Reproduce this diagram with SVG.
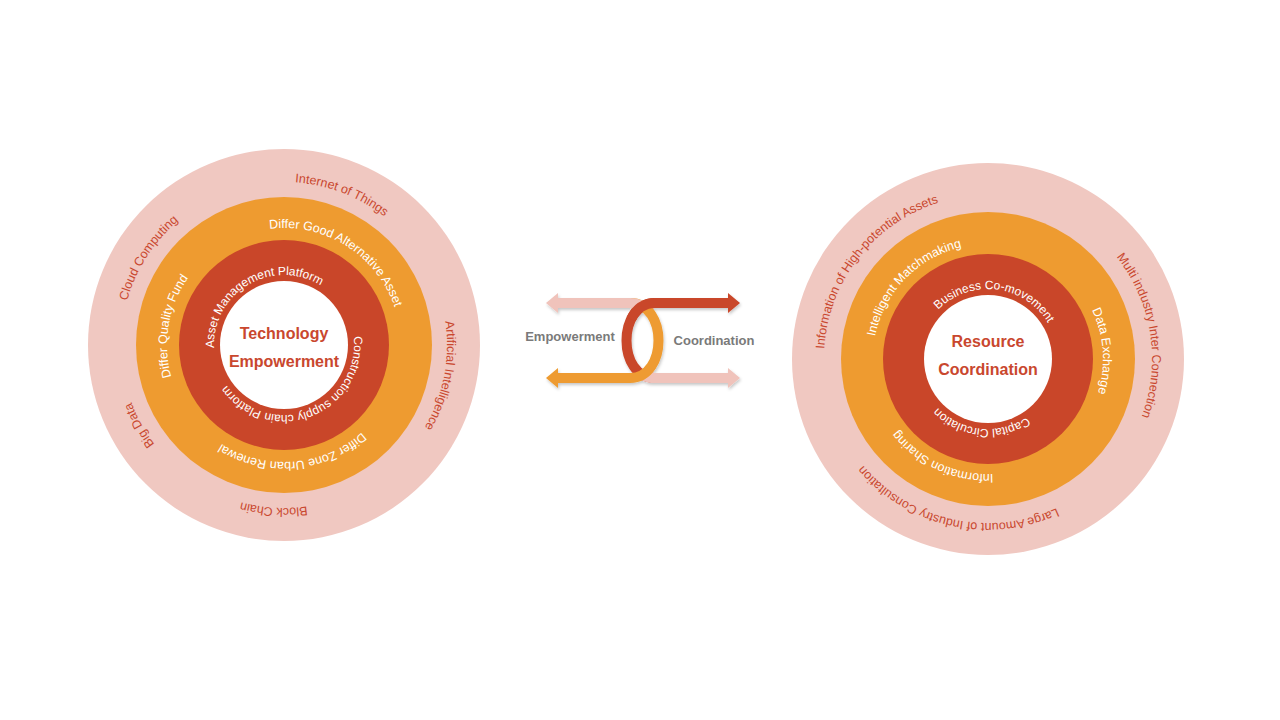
<svg xmlns="http://www.w3.org/2000/svg" width="1280" height="720" viewBox="0 0 1280 720">
<defs>
<style>
.bg{fill:#ffffff}
.pink{fill:#f0c8c1}
.orange{fill:#ee9b30}
.red{fill:#c94629}
.core{fill:#ffffff}
.t-outer{font-family:"Liberation Sans",Arial,sans-serif;font-size:12.5px;fill:#c9472e}
.t-mid{font-family:"Liberation Sans",Arial,sans-serif;font-size:12.5px;fill:#ffffff}
.t-in{font-family:"Liberation Sans",Arial,sans-serif;font-size:12px;fill:#ffffff}
.title{font-family:"Liberation Sans",Arial,sans-serif;font-size:16px;font-weight:bold;fill:#c9472e;text-anchor:middle}
.lbl{font-family:"Liberation Sans",Arial,sans-serif;font-size:13px;font-weight:bold;fill:#7a7a7a;text-anchor:middle}
.band{fill:none;stroke-width:10;stroke-linecap:butt}
.s-red{stroke:#c94629}
.s-pink{stroke:#f0c3bb}
.s-orange{stroke:#ee9b30}
</style>
<filter id="sh" x="-10%" y="-20%" width="120%" height="140%">
<feDropShadow dx="1" dy="2" stdDeviation="1.5" flood-color="#000000" flood-opacity="0.22"/>
</filter>
<marker id="ah-red" viewBox="0 0 12 20" refX="0" refY="10" markerWidth="12" markerHeight="20" markerUnits="userSpaceOnUse" orient="auto"><path d="M0,0 L12,10 L0,20 Z" fill="#c94629"/></marker>
<marker id="ah-pink" viewBox="0 0 12 20" refX="0" refY="10" markerWidth="12" markerHeight="20" markerUnits="userSpaceOnUse" orient="auto"><path d="M0,0 L12,10 L0,20 Z" fill="#f0c3bb"/></marker>
<marker id="ah-orange" viewBox="0 0 12 20" refX="0" refY="10" markerWidth="12" markerHeight="20" markerUnits="userSpaceOnUse" orient="auto"><path d="M0,0 L12,10 L0,20 Z" fill="#ee9b30"/></marker>
<!-- left circle text paths, center (284,345) -->
<path id="LoA" d="M284,508 A163,163 0 1 1 284,182 A163,163 0 1 1 284,508"/>
<path id="LoB" d="M284,182 A163,163 0 1 1 284,508 A163,163 0 1 1 284,182"/>
<path id="LmA" d="M284,462 A117,117 0 1 1 284,228 A117,117 0 1 1 284,462"/>
<path id="LmB" d="M284,228 A117,117 0 1 1 284,462 A117,117 0 1 1 284,228"/>
<path id="LiA" d="M284,415 A70,70 0 1 1 284,275 A70,70 0 1 1 284,415"/>
<path id="LiB" d="M284,275 A70,70 0 1 1 284,415 A70,70 0 1 1 284,275"/>
<!-- right circle text paths, center (988,359) -->
<path id="RoA" d="M988,523 A164,164 0 1 1 988,195 A164,164 0 1 1 988,523"/>
<path id="RoB" d="M988,195 A164,164 0 1 1 988,523 A164,164 0 1 1 988,195"/>
<path id="RmA" d="M988,474 A115,115 0 1 1 988,244 A115,115 0 1 1 988,474"/>
<path id="RmB" d="M988,244 A115,115 0 1 1 988,474 A115,115 0 1 1 988,244"/>
<path id="RiA" d="M988,429 A70,70 0 1 1 988,289 A70,70 0 1 1 988,429"/>
<path id="RiB" d="M988,289 A70,70 0 1 1 988,429 A70,70 0 1 1 988,289"/>
</defs>

<rect class="bg" x="0" y="0" width="1280" height="720"/>

<!-- LEFT: Technology Empowerment -->
<g id="tech-outer">
<circle class="pink" cx="284" cy="345" r="196"/>
<text class="t-outer" text-anchor="middle"><textPath href="#LoA" startOffset="55.83%">Internet of Things</textPath></text>
<text class="t-outer" text-anchor="middle"><textPath href="#LoB" startOffset="28.06%">Artificial Intelligence</textPath></text>
<text class="t-outer" text-anchor="middle"><textPath href="#LoB" startOffset="51%">Block Chain</textPath></text>
<text class="t-outer" text-anchor="middle"><textPath href="#LoB" startOffset="66.94%">Big Data</textPath></text>
<text class="t-outer" text-anchor="middle"><textPath href="#LoA" startOffset="34.08%">Cloud Computing</textPath></text>
</g>
<g id="tech-middle">
<circle class="orange" cx="284" cy="345" r="148"/>
<text class="t-mid" text-anchor="middle"><textPath href="#LmA" startOffset="58.89%">Differ Good Alternative Asset</textPath></text>
<text class="t-mid" text-anchor="middle"><textPath href="#LmA" startOffset="27.67%">Differ Quality Fund</textPath></text>
<text class="t-mid" text-anchor="middle"><textPath href="#LmB" startOffset="48.69%">Differ Zone Urban Renewal</textPath></text>
</g>
<g id="tech-inner">
<circle class="red" cx="284" cy="345" r="105"/>
<text class="t-in" text-anchor="middle"><textPath href="#LiA" startOffset="41.56%">Asset Management Platform</textPath></text>
<text class="t-in" text-anchor="middle"><textPath href="#LiB" startOffset="44.17%">Construction supply chain Platform</textPath></text>
</g>
<g id="tech-core">
<circle class="core" cx="284" cy="345" r="64"/>
<text class="title" x="284" y="339">Technology</text>
<text class="title" x="284" y="367">Empowerment</text>
</g>

<!-- RIGHT: Resource Coordination -->
<g id="res-outer">
<circle class="pink" cx="988" cy="359" r="196"/>
<text class="t-outer" text-anchor="middle"><textPath href="#RoA" startOffset="35.56%">Information of High-potential Assets</textPath></text>
<text class="t-outer" text-anchor="middle"><textPath href="#RoB" startOffset="22.5%">Multi industry Inter Connection</textPath></text>
<text class="t-outer" text-anchor="middle"><textPath href="#RoB" startOffset="53.44%">Large Amount of Industry Consultation</textPath></text>
</g>
<g id="res-middle">
<circle class="orange" cx="988" cy="359" r="147"/>
<text class="t-mid" text-anchor="middle"><textPath href="#RmA" startOffset="37.22%">Intelligent Matchmaking</textPath></text>
<text class="t-mid" text-anchor="middle"><textPath href="#RmB" startOffset="23.89%">Data Exchange</textPath></text>
<text class="t-mid" text-anchor="middle"><textPath href="#RmB" startOffset="56.83%">Information Sharing</textPath></text>
</g>
<g id="res-inner">
<circle class="red" cx="988" cy="359" r="105"/>
<text class="t-in" text-anchor="middle"><textPath href="#RiA" startOffset="51.92%">Business Co-movement</textPath></text>
<text class="t-in" text-anchor="middle"><textPath href="#RiB" startOffset="51.67%">Capital Circulation</textPath></text>
</g>
<g id="res-core">
<circle class="core" cx="988" cy="359" r="64"/>
<text class="title" x="988" y="347">Resource</text>
<text class="title" x="988" y="375">Coordination</text>
</g>

<!-- CENTER: interlocking arrows -->
<g id="connectors" filter="url(#sh)">
<path class="band s-red" d="M655,378 C617,378 617,303 655,303 H728" marker-end="url(#ah-red)"/>
<path class="band s-pink" d="M642.58,374.8 C646.13,376.84 650.27,378 655,378 H728" marker-end="url(#ah-pink)"/>
<path class="band s-orange" d="M630,303 C668,303 668,378 630,378 H558" marker-end="url(#ah-orange)"/>
<path class="band s-pink" d="M642.42,306.2 C638.87,304.16 634.73,303 630,303 H558" marker-end="url(#ah-pink)"/>
<path class="band s-red" d="M660,303 H655 C643.6,303 635.62,309.75 631.06,319.2"/>
</g>
<g id="labels">
<text class="lbl" x="570" y="341">Empowerment</text>
<text class="lbl" x="714" y="345">Coordination</text>
</g>
</svg>
